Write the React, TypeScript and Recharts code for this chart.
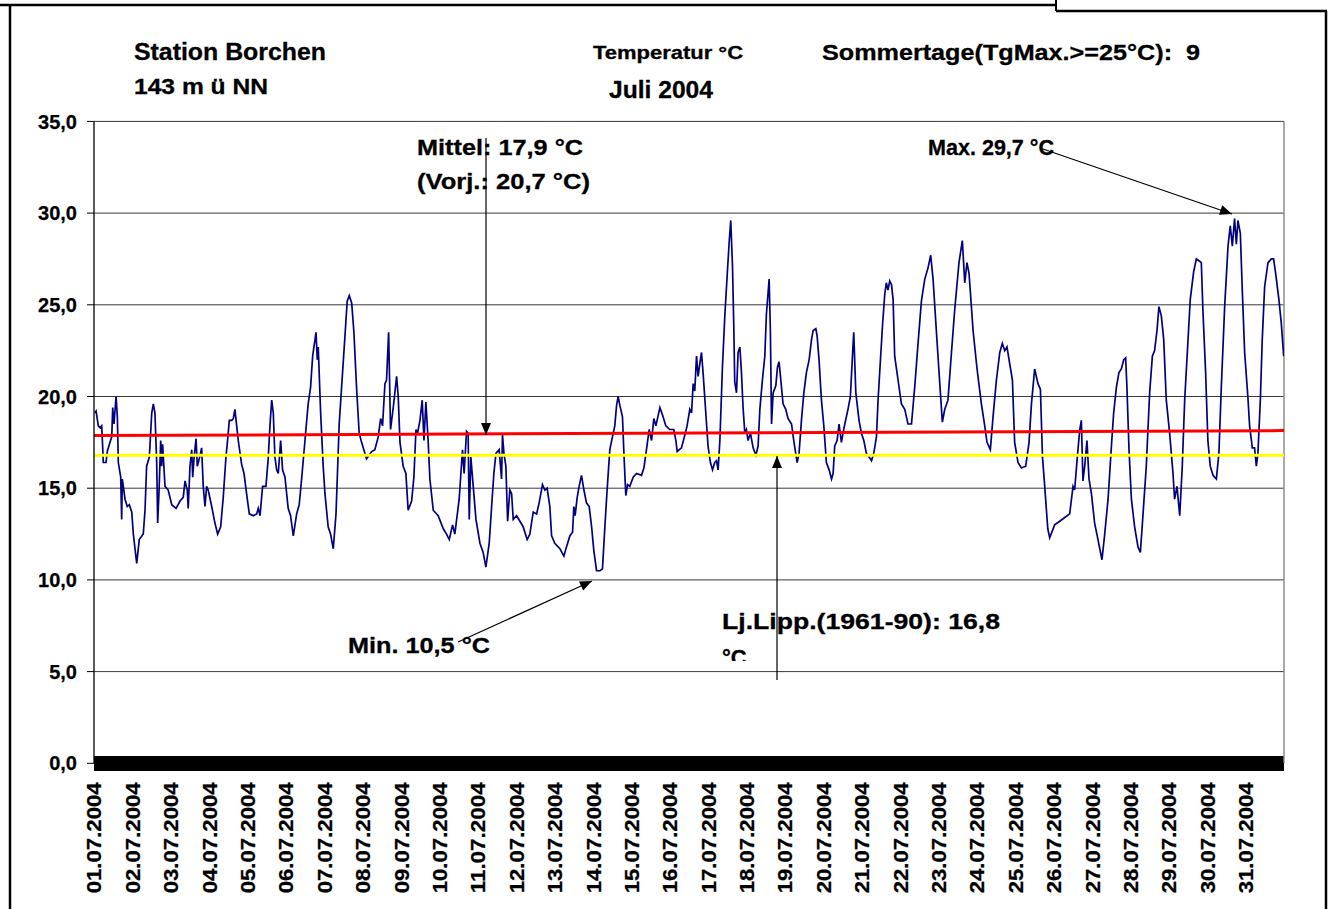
import React from 'react';
import { LineChart, Line, XAxis, YAxis, CartesianGrid, ReferenceLine, ReferenceArea } from 'recharts';

type P = [number, number];

// hours since 01.07.2004 00:00, temperature °C
const week1: P[] = [[0.6,19.1],[1.3,19.2],[2.7,18.4],[3.8,18.3],[4.8,18.4],[5.4,17.3],[5.8,16.4],[7.5,16.4],[8.3,17.0],[10.0,17.5],[11.1,17.8],[11.7,19.4],[12.5,18.5],[13.8,20.0],[14.6,18.9],[15.2,16.4],[16.7,15.6],[17.3,13.3],[17.7,15.5],[19.4,14.4],[20.8,14.0],[22.1,14.1],[23.6,13.7],[24.6,12.5],[26.7,10.9],[28.3,12.2],[30.8,12.5],[31.9,13.8],[32.9,16.2],[34.6,16.7],[36.1,19.1],[37.1,19.6],[38.1,19.1],[39.2,16.4],[39.8,13.1],[40.6,14.7],[41.7,17.6],[42.3,16.2],[42.9,17.4],[44.4,15.1],[46.4,14.9],[48.6,14.1],[51.3,13.9],[53.8,14.3],[55.8,14.5],[56.9,15.4],[58.3,14.9],[58.9,13.9],[60.0,16.2],[61.1,17.1],[61.7,15.6],[62.5,16.6],[63.8,17.7],[64.6,16.2],[65.8,16.6],[67.3,17.2],[68.3,15.1],[69.4,14.0],[70.4,15.1],[71.4,14.9],[73.6,14.0],[75.6,13.1],[77.3,12.5],[79.2,12.9],[80.8,14.5],[82.5,16.7],[83.3,17.4],[84.6,18.7],[86.1,18.7],[87.1,18.8],[88.1,19.3],[89.2,18.4],[90.2,17.6],[92.3,16.3],[93.8,15.8],[95.4,14.7],[97.1,13.6],[99.6,13.5],[101.7,13.6],[102.7,13.9],[103.8,13.5],[105.4,15.1],[107.5,15.1],[108.9,16.6],[110.0,18.4],[111.1,19.8],[112.1,19.1],[113.1,16.7],[114.2,16.0],[115.2,15.8],[116.7,17.6],[117.9,16.0],[119.4,15.6],[121.4,13.9],[122.9,13.5],[124.6,12.4],[126.7,13.6],[128.3,14.1],[129.8,15.5],[131.9,17.6],[133.9,19.6],[135.4,20.5],[136.7,22.2],[138.8,23.5],[139.6,22.0],[140.2,22.7],[141.7,19.1],[143.3,16.2],[144.4,14.7],[146.4,12.9],[147.9,12.5],[149.6,11.7],[151.3,13.6],[153.3,18.5],[155.4,21.3],[156.9,23.3],[158.3,25.2],[159.6,25.5],[161.1,25.1],[162.5,23.5],[164.2,20.4],[165.8,18.0],[167.3,17.5]];

const week2: P[] = [[170.4,16.6],[173.6,17.0],[175.6,17.1],[177.7,17.8],[179.2,18.8],[180.4,18.4],[181.9,20.7],[182.9,20.9],[184.2,23.5],[185.4,18.2],[187.1,19.4],[189.2,21.1],[190.2,20.0],[191.3,17.5],[193.3,16.2],[195.0,15.8],[196.4,13.8],[198.6,14.3],[200.0,15.6],[201.3,18.2],[202.3,18.0],[203.8,18.7],[205.2,19.8],[206.3,17.6],[207.5,19.7],[208.9,17.6],[210.0,15.5],[212.1,13.8],[215.2,13.5],[218.3,12.8],[220.4,12.5],[222.1,12.2],[224.2,13.0],[225.6,12.5],[228.3,14.4],[230.4,17.1],[231.4,15.8],[232.9,18.1],[233.9,18.0],[234.6,13.3],[235.6,16.7],[237.1,15.1],[238.8,13.3],[241.3,12.0],[243.3,11.5],[245.0,10.7],[247.1,12.0],[248.6,14.0],[250.0,15.8],[251.3,16.9],[253.3,17.1],[254.8,15.5],[255.4,17.9],[256.3,16.9],[257.5,16.2],[258.6,13.2],[260.0,14.9],[261.1,14.7],[262.1,13.3],[264.2,13.5],[266.3,13.2],[268.3,12.9],[270.8,12.2],[272.5,12.5],[274.6,13.7],[276.7,13.6],[278.3,14.2],[280.4,15.2],[281.9,14.9],[283.3,15.0],[285.0,14.0],[286.1,12.4],[288.1,12.0],[291.3,11.7],[293.8,11.3],[295.4,11.8],[297.5,12.4],[299.2,12.6],[300.0,14.0],[300.8,13.5],[302.1,14.5],[303.3,15.1],[304.8,15.7],[306.3,14.9],[307.9,14.2],[309.6,14.0],[311.1,12.9],[312.5,11.6],[314.2,10.5],[316.3,10.5],[317.9,10.6],[319.4,12.9],[320.8,14.9],[322.5,17.1],[323.9,17.7],[325.6,18.4],[326.7,19.5],[327.7,20.0],[328.8,19.5],[330.4,18.9],[331.4,16.7],[332.5,14.6],[333.6,15.2],[335.0,15.1]];

const week3: P[] = [[337.1,15.6],[339.2,15.8],[342.3,15.7],[343.8,16.1],[345.4,17.1],[347.1,18.2],[348.6,17.6],[350.0,18.8],[351.3,18.4],[353.8,19.4],[355.4,19.0],[357.5,18.4],[360.0,18.2],[362.5,18.2],[363.8,17.6],[364.6,17.0],[367.3,17.2],[369.4,17.9],[370.8,18.4],[372.5,19.3],[373.6,19.1],[374.6,20.7],[375.6,20.3],[376.7,22.2],[377.7,21.1],[378.8,21.8],[379.8,22.4],[380.8,21.3],[382.5,19.1],[383.9,17.3],[385.4,16.4],[386.7,16.0],[388.1,16.4],[389.2,16.5],[390.2,16.0],[391.3,17.6],[392.9,21.6],[394.4,24.4],[395.8,26.5],[397.1,28.4],[398.1,29.6],[399.2,27.1],[400.0,23.8],[400.6,20.8],[401.7,20.2],[402.7,22.4],[403.8,22.7],[404.8,21.3],[405.8,19.4],[406.9,18.0],[407.9,18.2],[408.9,17.6],[410.4,18.0],[412.1,17.2],[413.8,16.8],[415.2,17.3],[416.3,19.3],[417.9,20.9],[419.4,22.2],[420.4,24.5],[421.4,25.6],[422.1,26.4],[422.9,23.5],[423.6,18.5],[424.6,20.2],[426.3,20.6],[427.3,21.6],[428.3,21.9],[429.4,20.9],[430.8,19.6],[432.5,19.3],[433.9,18.8],[436.1,18.5],[437.5,17.6],[439.6,16.4],[440.8,16.9],[442.3,18.7],[443.8,20.2],[445.4,21.3],[447.1,22.0],[448.6,23.1],[449.6,23.6],[451.3,23.7],[452.1,23.3],[453.3,22.0],[454.8,19.8],[456.3,18.4],[457.9,16.4],[459.6,16.0],[461.1,15.5],[462.1,15.8],[463.1,17.3],[464.6,17.6],[465.8,18.5],[467.3,17.5],[468.3,18.0],[469.4,18.5],[471.4,19.3],[472.9,20.0],[474.2,22.2],[475.0,23.5],[476.3,20.2],[477.1,19.6],[478.3,18.7],[479.8,18.0],[481.3,17.6],[482.9,16.9],[484.6,16.7],[486.1,16.5],[487.5,16.9],[489.2,17.8],[490.2,19.8],[491.7,22.0],[493.0,23.9],[494.4,25.6],[495.4,26.2],[496.4,25.8],[497.5,26.3],[498.6,26.1],[499.6,25.3],[500.6,22.2],[502.7,20.9]];

const week4: P[] = [[504.8,19.6],[506.9,19.3],[508.9,18.5],[511.1,18.5],[513.1,20.5],[515.2,22.9],[517.3,25.2],[519.4,26.4],[521.4,27.0],[523.1,27.7],[524.6,26.4],[526.7,23.5],[528.8,20.7],[530.4,18.6],[531.9,19.3],[533.9,19.8],[536.1,22.4],[538.1,24.7],[540.8,27.3],[542.9,28.5],[544.4,26.2],[545.8,27.3],[547.1,26.7],[549.6,23.6],[552.1,21.5],[554.8,19.6],[556.9,18.4],[558.3,17.5],[560.4,17.1],[562.1,18.9],[564.2,20.9],[566.3,22.4],[567.9,22.9],[569.4,22.5],[570.8,22.7],[572.5,21.8],[574.2,20.9],[575.6,17.5],[577.7,16.4],[579.8,16.1],[582.5,16.2],[584.6,17.5],[586.1,19.6],[588.1,21.5],[590.2,20.7],[591.7,20.4],[593.0,16.7],[594.4,15.1],[596.3,12.8],[597.5,12.3],[600.6,13.0],[603.8,13.2],[606.9,13.4],[610.0,13.6],[612.1,15.1],[613.1,14.9],[614.6,16.5],[616.3,18.2],[617.3,18.7],[618.3,15.4],[619.4,16.2],[620.8,17.6],[622.1,15.5],[623.6,14.7],[625.6,13.1],[627.7,12.2],[630.2,11.1],[631.9,12.5],[634.0,14.4],[636.1,17.3],[637.5,19.1],[639.2,20.5],[640.8,21.3],[642.3,21.5],[643.8,22.0],[645.0,22.1],[645.8,20.5],[647.1,17.1],[648.6,14.4],[650.6,12.9],[652.7,11.8],[654.2,11.5],[655.8,13.5],[657.9,16.2],[660.0,20.2],[661.7,22.2],[663.1,22.5],[664.6,23.6],[665.8,24.9],[667.3,24.4],[668.8,23.1],[670.4,19.8]];

const week5: P[] = [[672.5,18.0],[674.6,15.8],[675.6,14.4],[677.1,15.1],[678.8,13.5],[680.4,16.2],[681.9,19.8],[683.3,22.0],[685.4,25.3],[687.5,26.8],[689.2,27.5],[690.8,27.4],[692.3,27.3],[693.3,24.7],[695.0,21.3],[696.4,17.6],[697.9,16.2],[699.6,15.7],[701.7,15.5],[703.3,16.9],[704.8,20.5],[706.9,24.9],[709.0,28.2],[710.4,29.3],[711.7,28.2],[713.1,29.7],[714.2,28.3],[715.2,29.6],[716.7,28.9],[718.0,25.6],[719.4,22.4],[721.4,20.0],[722.5,18.4],[724.2,17.2],[725.6,17.2],[726.7,16.2],[727.7,16.9],[729.2,19.8],[730.4,23.1],[731.9,26.0],[734.0,27.3],[736.1,27.5],[737.5,27.5],[738.8,26.7],[740.8,25.3],[742.3,24.0],[743.8,22.2]];

const dayLabels: string[] = ['01.07.2004','02.07.2004','03.07.2004','04.07.2004','05.07.2004','06.07.2004','07.07.2004','08.07.2004','09.07.2004','10.07.2004','11.07.2004','12.07.2004','13.07.2004','14.07.2004','15.07.2004','16.07.2004','17.07.2004','18.07.2004','19.07.2004','20.07.2004','21.07.2004','22.07.2004','23.07.2004','24.07.2004','25.07.2004','26.07.2004','27.07.2004','28.07.2004','29.07.2004','30.07.2004','31.07.2004'];
const dayTicks: number[] = dayLabels.map((_, i) => i * 24);
const yTicks: number[] = [0, 5, 10, 15, 20, 25, 30, 35];

const meanTrend = [{ h: 0, m: 17.87 }, { h: 744, m: 18.14 }];
const longTermMean = 16.8;

const temperature = [...week1, ...week2, ...week3, ...week4, ...week5].map(([h, t]) => ({ h, t }));

const FONT = "'Liberation Sans', Arial, Helvetica, sans-serif";

const XTick = (props: any) => {
  const { x, y, payload } = props;
  const idx = dayTicks.indexOf(payload.value);
  const label = idx >= 0 ? dayLabels[idx] : '';
  return (
    <text
      x={x}
      y={y}
      transform={`rotate(-90 ${x} ${y})`}
      textAnchor="end"
      dominantBaseline="central"
      fontFamily={FONT}
      fontWeight="bold"
      fontSize={21}
      fill="#000"
      stroke="#000"
      strokeWidth={0.25}
      textLength={111}
      lengthAdjust="spacingAndGlyphs"
    >
      {label}
    </text>
  );
};

function arrowHead(x1: number, y1: number, x2: number, y2: number, len = 12, half = 5) {
  const dx = x2 - x1;
  const dy = y2 - y1;
  const d = Math.sqrt(dx * dx + dy * dy);
  const ux = dx / d;
  const uy = dy / d;
  const bx = x2 - ux * len;
  const by = y2 - uy * len;
  return `${x2},${y2} ${bx - uy * half},${by + ux * half} ${bx + uy * half},${by - ux * half}`;
}

const Arrow = ({ x1, y1, x2, y2 }: { x1: number; y1: number; x2: number; y2: number }) => (
  <g>
    <line x1={x1} y1={y1} x2={x2} y2={y2} stroke="#000" strokeWidth={1.2} />
    <polygon points={arrowHead(x1, y1, x2, y2)} fill="#000" />
  </g>
);

const T = (p: { x: number; y: number; size: number; len?: number; children: React.ReactNode; clip?: string }) => (
  <text
    x={p.x}
    y={p.y}
    fontFamily={FONT}
    fontWeight="bold"
    fontSize={p.size}
    fill="#000"
    stroke="#000"
    strokeWidth={0.3}
    textLength={p.len}
    lengthAdjust={p.len ? 'spacingAndGlyphs' : undefined}
    clipPath={p.clip}
    style={{ whiteSpace: 'pre' }}
  >
    {p.children}
  </text>
);

export default function App() {
  return (
    <div style={{ position: 'absolute', left: 0, top: 0, width: 1330, height: 909, background: '#fff', overflow: 'hidden' }}>
      <LineChart
        width={1330}
        height={909}
        data={temperature}
        margin={{ top: 121.4, right: 46, bottom: 5.7, left: 14 }}
      >
        <CartesianGrid vertical={false} stroke="#3a3a3a" strokeWidth={1} />
        <XAxis
          type="number"
          dataKey="h"
          domain={[0, 744]}
          ticks={dayTicks}
          interval={0}
          tick={<XTick />}
          tickLine={false}
          tickSize={8}
          tickMargin={11}
          height={140}
          axisLine={{ stroke: '#000', strokeWidth: 1 }}
          allowDataOverflow
        />
        <YAxis
          type="number"
          domain={[0, 35]}
          ticks={yTicks}
          interval={0}
          width={80}
          tickSize={7}
          tickMargin={10}
          tickFormatter={(v: number) => v.toFixed(1).replace('.', ',')}
          tick={{ fontFamily: FONT, fontWeight: 'bold', fontSize: 20, fill: '#000', stroke: '#000', strokeWidth: 0.25 }}
          tickLine={{ stroke: '#000' }}
          axisLine={{ stroke: '#000', strokeWidth: 1.3 }}
          allowDataOverflow
        />
        <ReferenceLine x={744} stroke="#8c8c8c" strokeWidth={1.5} />
        <Line
          type="linear"
          dataKey="t"
          stroke="#000080"
          strokeWidth={1.7}
          dot={false}
          activeDot={false}
          isAnimationActive={false}
        />
        <ReferenceLine y={longTermMean} stroke="#ffff00" strokeWidth={3} />
        <Line
          data={meanTrend}
          type="linear"
          dataKey="m"
          stroke="#ff0000"
          strokeWidth={3}
          dot={false}
          activeDot={false}
          isAnimationActive={false}
        />
        <ReferenceArea x1={0} x2={744} y1={-0.42} y2={0.4} fill="#000" fillOpacity={1} stroke="none" ifOverflow="visible" />
      </LineChart>
      <svg width={1330} height={909} style={{ position: 'absolute', left: 0, top: 0, pointerEvents: 'none' }}>
        <defs>
          <clipPath id="clipC">
            <rect x={700} y={600} width={100} height={61} />
          </clipPath>
        </defs>
        {/* frame */}
        <line x1={0} y1={5} x2={1057} y2={5} stroke="#000" strokeWidth={2.5} />
        <line x1={1056} y1={0} x2={1056} y2={11} stroke="#000" strokeWidth={2} />
        <line x1={1056} y1={11} x2={1327} y2={11} stroke="#000" strokeWidth={2.5} />
        <line x1={10} y1={5} x2={10} y2={909} stroke="#000" strokeWidth={2.5} />
        <line x1={1326} y1={11} x2={1326} y2={909} stroke="#000" strokeWidth={2.5} />

        {/* header */}
        <T x={134} y={60} size={23} len={192}>Station Borchen</T>
        <T x={134} y={94} size={22} len={134}>143 m ü NN</T>
        <T x={593} y={59} size={19} len={150}>Temperatur °C</T>
        <T x={609} y={98} size={23} len={104}>Juli 2004</T>
        <T x={822} y={60} size={22} len={378}>{'Sommertage(TgMax.>=25°C):  9'}</T>

        {/* annotations */}
        <T x={417} y={155} size={22} len={166}>Mittel: 17,9 °C</T>
        <T x={417} y={189} size={22} len={173}>(Vorj.: 20,7 °C)</T>
        <T x={928} y={155} size={22} len={126}>Max. 29,7 °C</T>
        <T x={348} y={653} size={22} len={142}>Min. 10,5 °C</T>
        <T x={722} y={629} size={22} len={278}>Lj.Lipp.(1961-90): 16,8</T>
        <T x={722} y={665} size={22} clip="url(#clipC)">°C</T>

        <Arrow x1={486} y1={138} x2={486} y2={435} />
        <Arrow x1={1040} y1={148} x2={1232} y2={214} />
        <Arrow x1={458} y1={642} x2={592} y2={581} />
        <Arrow x1={777} y1={680} x2={777} y2={456} />
      </svg>
    </div>
  );
}
